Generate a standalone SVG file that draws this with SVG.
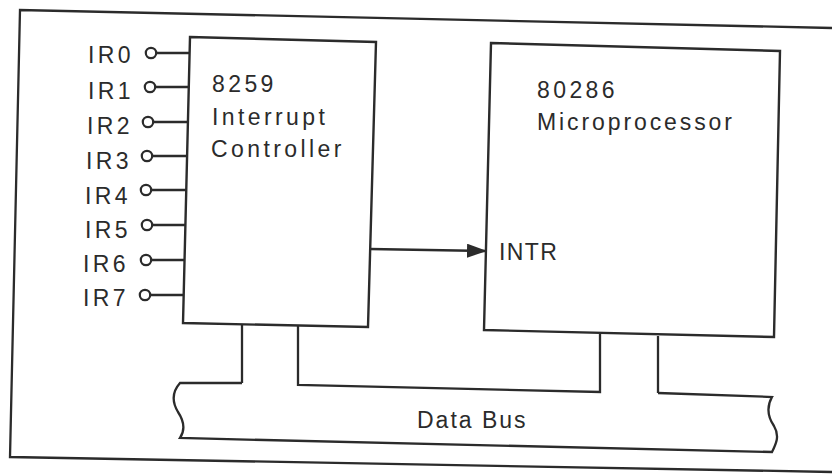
<svg xmlns="http://www.w3.org/2000/svg" width="832" height="474" viewBox="0 0 832 474">
<defs>
<style>
.ln{fill:none;stroke:#2b2b2b;stroke-width:2.3;stroke-linejoin:miter}
.box{fill:#fff;stroke:#2b2b2b;stroke-width:2.4}
.t{font-family:"Liberation Sans",Arial,sans-serif;font-size:23px;fill:#2b2b2b;letter-spacing:3.4px}
.pin{fill:#fff;stroke:#2b2b2b;stroke-width:2.2}
</style>
<marker id="ah" viewBox="0 0 20 14" refX="19" refY="7" markerWidth="20" markerHeight="14" markerUnits="userSpaceOnUse" orient="auto">
<path d="M0,0 L20,7 L0,14 Z" fill="#2b2b2b"/>
</marker>
</defs>
<rect width="832" height="474" fill="#fff"/>
<g id="frame">
<path class="ln" d="M832,28 L20,10 L10,457 L832,472"/>
</g>
<g id="connectors">
<path class="ln" d="M157,53 L190,53"/>
<path class="ln" d="M156,87 L189,87"/>
<path class="ln" d="M154,122 L188,122"/>
<path class="ln" d="M153,156 L187,156"/>
<path class="ln" d="M152,190 L186,190"/>
<path class="ln" d="M153,225 L186,225"/>
<path class="ln" d="M152,260 L185,260"/>
<path class="ln" d="M151,295 L184,295"/>
<path class="ln" d="M370,249 L486,251" marker-end="url(#ah)"/>
<path class="ln" d="M242,325 L242,383"/>
<path class="ln" d="M298,326 L298,385 L600,392 L600,334"/>
<path class="ln" d="M658,336 L658,393"/>
</g>
<g id="controller">
<polygon class="box" points="190,37 376,42 368,327 183,323"/>
<text class="t" x="212" y="92">8259</text>
<text class="t" x="212" y="125">Interrupt</text>
<text class="t" x="211" y="157">Controller</text>
</g>
<g id="cpu">
<polygon class="box" points="491,43 780,51 774,337 484,330"/>
<text class="t" x="537" y="98">80286</text>
<text class="t" x="537" y="130" style="letter-spacing:2.9px">Microprocessor</text>
<text class="t" x="499" y="260" style="letter-spacing:1.4px">INTR</text>
</g>
<g id="inputs">
<g id="ir0"><circle class="pin" cx="151" cy="53" r="5.2"/><text class="t" x="88" y="63">IR0</text></g>
<g id="ir1"><circle class="pin" cx="150" cy="87" r="5.2"/><text class="t" x="88" y="99">IR1</text></g>
<g id="ir2"><circle class="pin" cx="148" cy="122" r="5.2"/><text class="t" x="87" y="134">IR2</text></g>
<g id="ir3"><circle class="pin" cx="147" cy="156" r="5.2"/><text class="t" x="86" y="169">IR3</text></g>
<g id="ir4"><circle class="pin" cx="146" cy="190" r="5.2"/><text class="t" x="85" y="204">IR4</text></g>
<g id="ir5"><circle class="pin" cx="147" cy="225" r="5.2"/><text class="t" x="85" y="238">IR5</text></g>
<g id="ir6"><circle class="pin" cx="146" cy="260" r="5.2"/><text class="t" x="83" y="272">IR6</text></g>
<g id="ir7"><circle class="pin" cx="145" cy="295" r="5.2"/><text class="t" x="83" y="306">IR7</text></g>
</g>
<g id="databus">
<path class="ln" d="M242,383 L180,383 C172,392 172,402 178,412 C186,424 184,432 180,438 L772,452 C776,444 780,436 774,426 C766,414 768,404 772,397 L658,393"/>
<text class="t" x="417" y="428" style="letter-spacing:2px">Data Bus</text>
</g>
</svg>
